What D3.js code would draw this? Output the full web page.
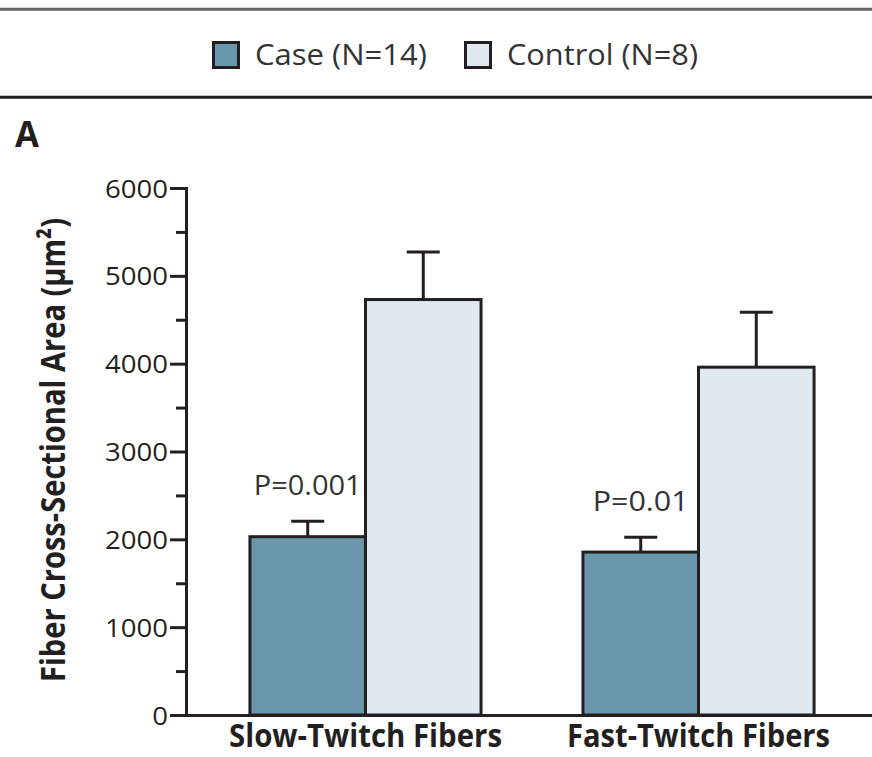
<!DOCTYPE html>
<html>
<head>
<meta charset="utf-8">
<script src="https://cdn.jsdelivr.net/npm/d3@7"></script>
<style>
  body { margin: 0; background: #fff; }
  svg { display: block; font-family: 'Open Sans', 'DejaVu Sans', sans-serif; }
</style>
</head>
<body>
<div id="root"></div>
<script>
// Data
const groups = ['Slow-Twitch Fibers', 'Fast-Twitch Fibers'];
const series = ['Case (N=14)', 'Control (N=8)'];
const caseMeans = [2030, 1855];
const caseSE = [175, 170];
const controlMeans = [4730, 3960];
const controlSE = [540, 625];
const pValues = ['P=0.001', 'P=0.01'];
const yTicks = [0, 1000, 2000, 3000, 4000, 5000, 6000];
const yMinorTicks = [500, 1500, 2500, 3500, 4500, 5500];

const w = 872;
const h = 757;
const ink = '#231f20';
const colors = ['#6996aa', '#e1e9f0'];

const svg = d3.select('#root')
  .append('svg')
  .attr('width', w)
  .attr('height', h);

// rules across the top
svg.append('line')
  .attr('x1', 0).attr('x2', w).attr('y1', 9.3).attr('y2', 9.3)
  .attr('stroke', '#666').attr('stroke-width', 3);
svg.append('line')
  .attr('x1', 0).attr('x2', w).attr('y1', 97.3).attr('y2', 97.3)
  .attr('stroke', ink).attr('stroke-width', 3);

// legend
const legendX = [213.5, 465.5];
const legendW = [172, 191];
series.forEach((s, i) => {
  svg.append('rect')
    .attr('x', legendX[i]).attr('y', 42.5)
    .attr('width', 25).attr('height', 25)
    .attr('fill', colors[i])
    .attr('stroke', ink).attr('stroke-width', 3);
  svg.append('text')
    .attr('x', legendX[i] + 41.5).attr('y', 65)
    .attr('font-size', 29)
    .attr('fill', '#333')
    .attr('textLength', legendW[i])
    .attr('lengthAdjust', 'spacingAndGlyphs')
    .text(s);
});

// panel letter
svg.append('text')
  .attr('x', 15).attr('y', 147)
  .attr('font-size', 35).attr('font-weight', 'bold')
  .attr('fill', ink)
  .attr('textLength', 24).attr('lengthAdjust', 'spacingAndGlyphs')
  .text('A');

// scales
const yScale = d3.scaleLinear()
  .domain([0, 6000])
  .range([715, 188]);

const x0 = d3.scaleBand()
  .domain(groups)
  .range([186, 878])
  .paddingInner(0.306)
  .paddingOuter(0.192);

const x1 = d3.scaleBand()
  .domain([0, 1])
  .range([0, x0.bandwidth()]);

const rows = groups.map((g, i) => ({
  group: g,
  bars: [
    { k: 0, mean: caseMeans[i], se: caseSE[i] },
    { k: 1, mean: controlMeans[i], se: controlSE[i] }
  ]
}));

const gGroups = svg.selectAll('g.group')
  .data(rows)
  .enter()
  .append('g')
  .attr('class', 'group')
  .attr('transform', d => `translate(${x0(d.group)},0)`);

// error bars (drawn first so bar outline sits on top)
const err = gGroups.selectAll('g.err')
  .data(d => d.bars)
  .enter()
  .append('g')
  .attr('class', 'err');
err.append('line')
  .attr('x1', d => x1(d.k) + x1.bandwidth() / 2)
  .attr('x2', d => x1(d.k) + x1.bandwidth() / 2)
  .attr('y1', d => yScale(d.mean))
  .attr('y2', d => yScale(d.mean + d.se))
  .attr('stroke', ink).attr('stroke-width', 3);
err.append('line')
  .attr('x1', d => x1(d.k) + x1.bandwidth() / 2 - 16.5)
  .attr('x2', d => x1(d.k) + x1.bandwidth() / 2 + 16.5)
  .attr('y1', d => yScale(d.mean + d.se))
  .attr('y2', d => yScale(d.mean + d.se))
  .attr('stroke', ink).attr('stroke-width', 3);

gGroups.selectAll('rect')
  .data(d => d.bars)
  .enter()
  .append('rect')
  .attr('x', d => x1(d.k))
  .attr('y', d => yScale(d.mean))
  .attr('width', x1.bandwidth())
  .attr('height', d => yScale(0) - yScale(d.mean))
  .attr('fill', d => colors[d.k])
  .attr('stroke', ink)
  .attr('stroke-width', 3);

// P values above the case bars
const pWidths = [108, 96];
gGroups.append('text')
  .attr('x', x1(0) + x1.bandwidth() / 2)
  .attr('y', (d, i) => yScale(caseMeans[i] + caseSE[i]) - 26)
  .attr('text-anchor', 'middle')
  .attr('font-size', 28)
  .attr('fill', '#333')
  .attr('textLength', (d, i) => pWidths[i])
  .attr('lengthAdjust', 'spacingAndGlyphs')
  .text((d, i) => pValues[i]);

// y axis
const yAxis = d3.axisLeft(yScale)
  .tickValues(yTicks)
  .tickSize(16)
  .tickPadding(2)
  .tickFormat(d3.format('d'));
const gy = svg.append('g')
  .attr('transform', 'translate(186,0)')
  .attr('id', 'y-axis')
  .call(yAxis);
gy.select('.domain').attr('stroke', ink).attr('stroke-width', 3);
gy.selectAll('.tick line').attr('stroke', ink).attr('stroke-width', 3);
gy.selectAll('.tick text')
  .attr('font-size', 25)
  .attr('fill', ink)
  .attr('font-family', "'Open Sans', sans-serif")
  .attr('dy', '0.36em')
  .attr('textLength', d => String(d).length * 15.75)
  .attr('lengthAdjust', 'spacingAndGlyphs');

const yMinor = d3.axisLeft(yScale)
  .tickValues(yMinorTicks)
  .tickSize(10)
  .tickFormat('');
const gyMinor = svg.append('g')
  .attr('transform', 'translate(186,0)')
  .call(yMinor);
gyMinor.select('.domain').remove();
gyMinor.selectAll('.tick line').attr('stroke', ink).attr('stroke-width', 3);

// y title
svg.append('text')
  .attr('transform', 'translate(65,450) rotate(-90)')
  .attr('text-anchor', 'middle')
  .attr('font-size', 34)
  .attr('font-weight', 'bold')
  .attr('fill', ink)
  .attr('textLength', 464)
  .attr('lengthAdjust', 'spacingAndGlyphs')
  .text('Fiber Cross-Sectional Area (\u03bcm\u00b2)');

// x axis
const xAxis = d3.axisBottom(x0)
  .tickSize(0)
  .tickSizeOuter(0)
  .tickPadding(32);
const gx = svg.append('g')
  .attr('transform', 'translate(0,715)')
  .attr('id', 'x-axis')
  .call(xAxis);
gx.select('.domain').attr('stroke', ink).attr('stroke-width', 3);
const xWidths = [273, 263];
gx.selectAll('.tick text')
  .attr('font-size', 32)
  .attr('font-weight', 'bold')
  .attr('fill', ink)
  .attr('font-family', "'Open Sans', sans-serif")
  .attr('dy', 0)
  .attr('textLength', (d, i) => xWidths[i])
  .attr('lengthAdjust', 'spacingAndGlyphs');
</script>
</body>
</html>
